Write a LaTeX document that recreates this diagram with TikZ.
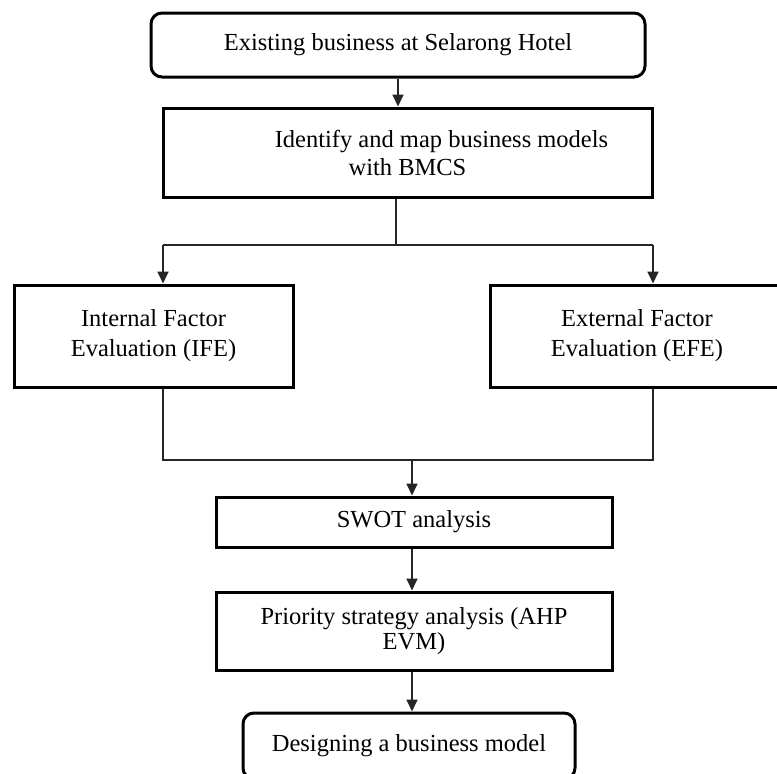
\documentclass[tikz,border=0pt]{standalone}
\usepackage{fontspec}
\setmainfont{Liberation Serif}
\usetikzlibrary{arrows.meta}
\tikzset{
  box/.style={draw=black, line width=3pt, rectangle, align=center, inner sep=0pt,
    font=\fontsize{24.5}{29}\selectfont},
  rbox/.style={box, rounded corners=11pt},
  conn/.style={draw=black!85, line width=1.8pt},
  arr/.style={conn, -{Triangle[width=11pt,length=12pt]}}
}
\begin{document}
\begin{tikzpicture}[x=1pt,y=-1pt]
\useasboundingbox (0,0) rectangle (777,774);
\node[rbox, minimum width=494pt, minimum height=64pt] (top) at (398,45) {Existing business at Selarong Hotel};
\node[box, minimum width=489pt, minimum height=89pt, font=\fontsize{24.5}{28}\selectfont] (bmcs) at (407.5,152.5) {\hspace*{68pt}Identify and map business models\\with BMCS};
\node[box, minimum width=279pt, minimum height=102pt, font=\fontsize{24.5}{30}\selectfont] (ife) at (153.5,336) {Internal Factor\\Evaluation (IFE)};
\node[box, minimum width=294pt, minimum height=102pt, font=\fontsize{24.5}{30}\selectfont] (efe) at (637,336) {External Factor\\Evaluation (EFE)};
\node[box, minimum width=396pt, minimum height=50pt] (swot) at (414,522) {SWOT analysis};
\node[box, minimum width=396pt, minimum height=78pt, font=\fontsize{24.5}{25}\selectfont] (prio) at (414,631) {Priority strategy analysis (AHP\\EVM)};
\node[rbox, minimum width=332pt, minimum height=66pt] (design) at (409,746) {Designing a business model};

\coordinate (ja) at (398,0);
\coordinate (jm) at (396,245);
\coordinate (jl) at (163,245);
\coordinate (jr) at (653,245);
\coordinate (kl) at (163,460);
\coordinate (kr) at (653,460);
\coordinate (km) at (412,460);

\draw[arr] (ja |- top.south) -- (ja |- bmcs.north);
\draw[conn] (jm |- bmcs.south) -- (jm);
\draw[conn] (jl) -- (jr);
\draw[arr] (jl) -- (jl |- ife.north);
\draw[arr] (jr) -- (jr |- efe.north);
\draw[conn] (kl |- ife.south) -- (kl) -- (kr) -- (kr |- efe.south);
\draw[arr] (km) -- (km |- swot.north);
\draw[arr] (km |- swot.south) -- (km |- prio.north);
\draw[arr] (km |- prio.south) -- (km |- design.north);
\end{tikzpicture}
\end{document}
